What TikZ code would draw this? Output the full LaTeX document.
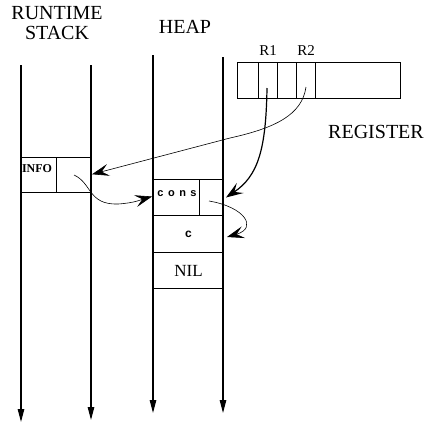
\documentclass[tikz,border=0pt]{standalone}
\usepackage{fontspec}
\setmainfont{Liberation Serif}
\newfontfamily\sansb{Liberation Sans}
\usetikzlibrary{arrows.meta,calc}
\begin{document}
\begin{tikzpicture}[x=1pt,y=-1pt,
  wall/.style={line width=1.2pt,-{Triangle[length=13pt,width=6.5pt]}},
  cellbox/.style={draw,line width=1pt,inner sep=0pt,anchor=north west},
  ptr/.style={line width=0.6pt,-{Stealth[length=17pt,width=12pt,inset=7pt]}},
  ptrthick/.style={line width=1.2pt,-{Stealth[length=17pt,width=12pt,inset=7pt]}},
  title/.style={font=\fontsize{20}{20}\selectfont,inner sep=0pt,anchor=base},
  reglabel/.style={font=\fontsize{15}{15}\selectfont,inner sep=0pt,anchor=base}]
\useasboundingbox (0,0) rectangle (428,424);
% titles
\node[title] (tRun) at (57,19) {RUNTIME};
\node[title] (tStack) at (57,39) {STACK};
\node[title] (tHeap) at (185,33) {HEAP};
\node[title] (tReg) at (376,138) {REGISTER};
\node[reglabel] (tR1) at (268,55) {R1};
\node[reglabel] (tR2) at (306,55) {R2};
% stack and heap walls
\coordinate (sL0) at (21,65);  \coordinate (sL1) at (21,422);
\coordinate (sR0) at (91,65);  \coordinate (sR1) at (91,420);
\coordinate (hL0) at (153,55); \coordinate (hL1) at (153,413);
\coordinate (hR0) at (223,57); \coordinate (hR1) at (223,413);
\draw[wall] (sL0) -- (sL1);
\draw[wall] (sR0) -- (sR1);
\draw[wall] (hL0) -- (hL1);
\draw[wall] (hR0) -- (hR1);
% register
\node[cellbox,minimum width=21pt,minimum height=36pt] (regA) at (237,62) {};
\node[cellbox,minimum width=19pt,minimum height=36pt] (regR1) at (258,62) {};
\node[cellbox,minimum width=19pt,minimum height=36pt] (regB) at (277,62) {};
\node[cellbox,minimum width=19pt,minimum height=36pt] (regR2) at (296,62) {};
\node[cellbox,minimum width=85pt,minimum height=36pt] (regC) at (315,62) {};
% stack frame
\node[cellbox,minimum width=35pt,minimum height=35pt] (infoL) at (21,157) {};
\node[cellbox,minimum width=35pt,minimum height=35pt] (infoR) at (56,157) {};
\node[inner sep=0pt,font=\bfseries\fontsize{12}{12}\selectfont] (infoT) at (37,169) {INFO};
% heap cells
\node[cellbox,minimum width=46pt,minimum height=36pt] (consL) at (153,179) {};
\node[cellbox,minimum width=24pt,minimum height=36pt] (consR) at (199,179) {};
\node[inner sep=0pt,font=\sansb\bfseries\fontsize{11}{11}\selectfont] (consT) at (177,194) {c\hspace{4.5pt}o\hspace{4.5pt}n\hspace{4.5pt}s};
\node[cellbox,minimum width=70pt,minimum height=37pt,font=\sansb\bfseries\fontsize{12}{12}\selectfont] (cC) at (153,215) {c};
\node[cellbox,minimum width=70pt,minimum height=36pt,font=\fontsize{17}{17}\selectfont] (nil) at (153,252) {NIL};
% pointers
\coordinate (r2p) at (306,87);
\coordinate (r1p) at (267,88);
\coordinate (ip) at (74,175);
\coordinate (cp) at (209,201);
\draw[ptr,shorten >=-1pt] (r2p) .. controls (302,115) and (275,128) .. (230,138) -- ($(infoR.east)+(1,-1)$);
\draw[ptrthick] (r1p) .. controls (266,150) and (258,176) .. ($(consR.east)+(2,0)$);
\draw[ptr] (ip) .. controls (92,183) and (88,205) .. (118,204) .. controls (135,203) and (143,199) .. ($(consL.west)+(-1,-1)$);
\draw[ptr] (cp) .. controls (245,207) and (258,228) .. ($(cC.east)+(3,3)$);
\end{tikzpicture}
\end{document}
